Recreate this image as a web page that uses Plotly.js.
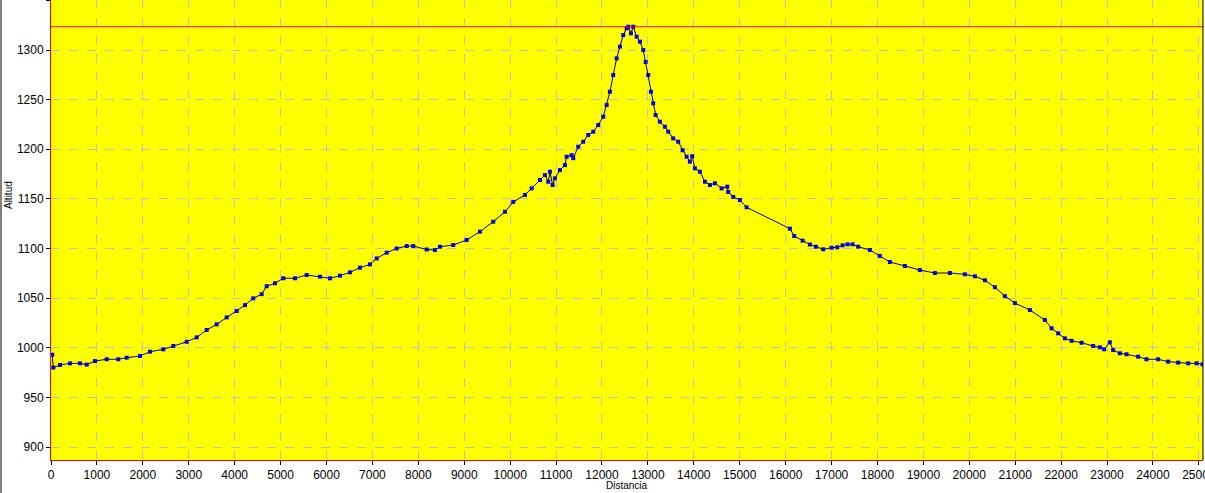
<!DOCTYPE html>
<html>
<head>
<meta charset="utf-8">
<script src="https://cdn.plot.ly/plotly-3.0.1.min.js"></script>
<style>
html,body{margin:0;padding:0;background:#fff;overflow:hidden;}
#chart{position:absolute;left:0;top:0;width:1205px;height:493px;overflow:hidden;}
#edge{position:absolute;left:0;top:0;width:2px;height:493px;background:#808080;}
</style>
</head>
<body>
<div id="chart"></div>
<div id="edge"></div>
<script>
const distancia = [28,50,196,414,632,777,958,1213,1466,1649,1938,2156,2446,2663,2955,3173,3391,3608,3826,4044,4225,4405,4588,4697,4878,5059,5314,5568,5858,6076,6294,6511,6729,6947,7093,7311,7528,7746,7890,8182,8362,8471,8761,9053,9342,9632,9887,10068,10322,10468,10649,10758,10830,10867,10925,10975,11085,11193,11230,11339,11374,11483,11592,11701,11810,11919,12028,12102,12173,12245,12319,12391,12463,12537,12572,12631,12681,12755,12827,12899,12951,13007,13066,13116,13169,13262,13371,13443,13551,13660,13756,13843,13915,13965,14024,14133,14242,14351,14460,14606,14728,14749,14858,15004,15150,16093,16187,16370,16529,16659,16818,17001,17123,17240,17350,17459,17580,17835,18053,18271,18598,18924,19251,19578,19904,20122,20340,20558,20775,20993,21320,21646,21792,21936,22082,22228,22446,22698,22844,22937,23061,23133,23279,23425,23677,23860,24113,24331,24549,24767,24950,25080];
const altitud = [993,980,982.6,984.3,984.3,983,986.6,988.4,988.4,990,991.7,996,998.4,1001.8,1006,1010.5,1017.9,1023.6,1030.6,1037,1043,1049.8,1054,1062,1065,1070,1070,1073.3,1071.6,1070,1072.6,1076,1080.7,1084,1090,1095.8,1100,1102.5,1102.5,1099,1098.5,1101.8,1103.5,1108.6,1117,1127,1137,1147,1154,1160.6,1169,1174,1167.3,1177.4,1164,1170.7,1179,1184,1192.5,1194,1191,1202.6,1207.6,1214.4,1217.7,1224.4,1232.8,1244.6,1258,1274.8,1291.6,1303.4,1315,1321.9,1323.5,1316.8,1323.5,1313.4,1308.4,1300,1288,1274.8,1258,1246.3,1234.5,1227.8,1222.7,1217.7,1211,1207.6,1199,1192.5,1187.5,1193,1180.8,1177.4,1167.3,1164,1165.7,1160.6,1162.3,1157,1152,1148.9,1141.5,1120,1112.6,1107.9,1104,1101.8,1099.2,1100.8,1101.2,1103.2,1104.2,1104.2,1101.8,1098.5,1092.5,1086.4,1082.4,1078.3,1075.3,1075.3,1074,1072,1068,1061,1052,1045,1038,1028,1019.6,1014.5,1009.5,1007,1005,1001.8,1000.4,998.4,1005.5,997.7,994.4,993.4,991,988.4,988.4,986,985,984.3,984.3,983.3];
const xTitle = "Distancia";
const yTitle = "Altitud";
const maxAlt = Math.max(...altitud);

const font = {family: "Arial, 'Liberation Sans', sans-serif", size: 12, color: "#000"};

Plotly.newPlot("chart", [{
  x: distancia, y: altitud, type: "scatter", mode: "lines+markers",
  line: {color: "#000", width: 1},
  marker: {color: "#0000ff", size: 4, symbol: "square", line: {width: 0}},
  hoverinfo: "skip"
}], {
  width: 1205, height: 493,
  margin: {l: 51, r: 2, t: 0, b: 33, pad: 0},
  paper_bgcolor: "#ffffff",
  plot_bgcolor: "#ffff00",
  showlegend: false,
  font: font,
  xaxis: {
    range: [0, 25090], dtick: 1000, tick0: 0, tickformat: "d",
    ticklabeloverflow: "allow",
    showgrid: true, gridcolor: "#c0c0c0", griddash: "dash", gridwidth: 1,
    zeroline: false, showline: true, linecolor: "#ff0000", linewidth: 1,
    ticks: "outside", ticklen: 4, tickcolor: "#000", tickfont: font
  },
  yaxis: {
    range: [886.9, 1350.4], dtick: 50, tick0: 0, tickformat: "d",
    showgrid: true, gridcolor: "#c0c0c0", griddash: "dash", gridwidth: 1,
    zeroline: false, showline: true, linecolor: "#ff0000", linewidth: 1,
    ticks: "outside", ticklen: 4, tickcolor: "#000", tickfont: font
  },
  shapes: [
    {type: "line", xref: "paper", yref: "y", x0: 0, x1: 1, y0: maxAlt, y1: maxAlt, line: {color: "#ff0000", width: 1}},
    {type: "line", xref: "paper", yref: "paper", x0: 1, x1: 1, y0: 0, y1: 1, line: {color: "#000", width: 1}}
  ],
  annotations: [
    {text: xTitle, xref: "paper", yref: "paper", x: 0.5, y: 0, yshift: -25, xanchor: "center", yanchor: "middle", showarrow: false, font: {family: font.family, size: 10, color: "#000"}},
    {text: yTitle, xref: "paper", yref: "paper", x: 0, xshift: -43, y: 0.576, textangle: -90, xanchor: "center", yanchor: "middle", showarrow: false, font: {family: font.family, size: 10, color: "#000"}}
  ]
}, {displayModeBar: false, staticPlot: true});
</script>
</body>
</html>
